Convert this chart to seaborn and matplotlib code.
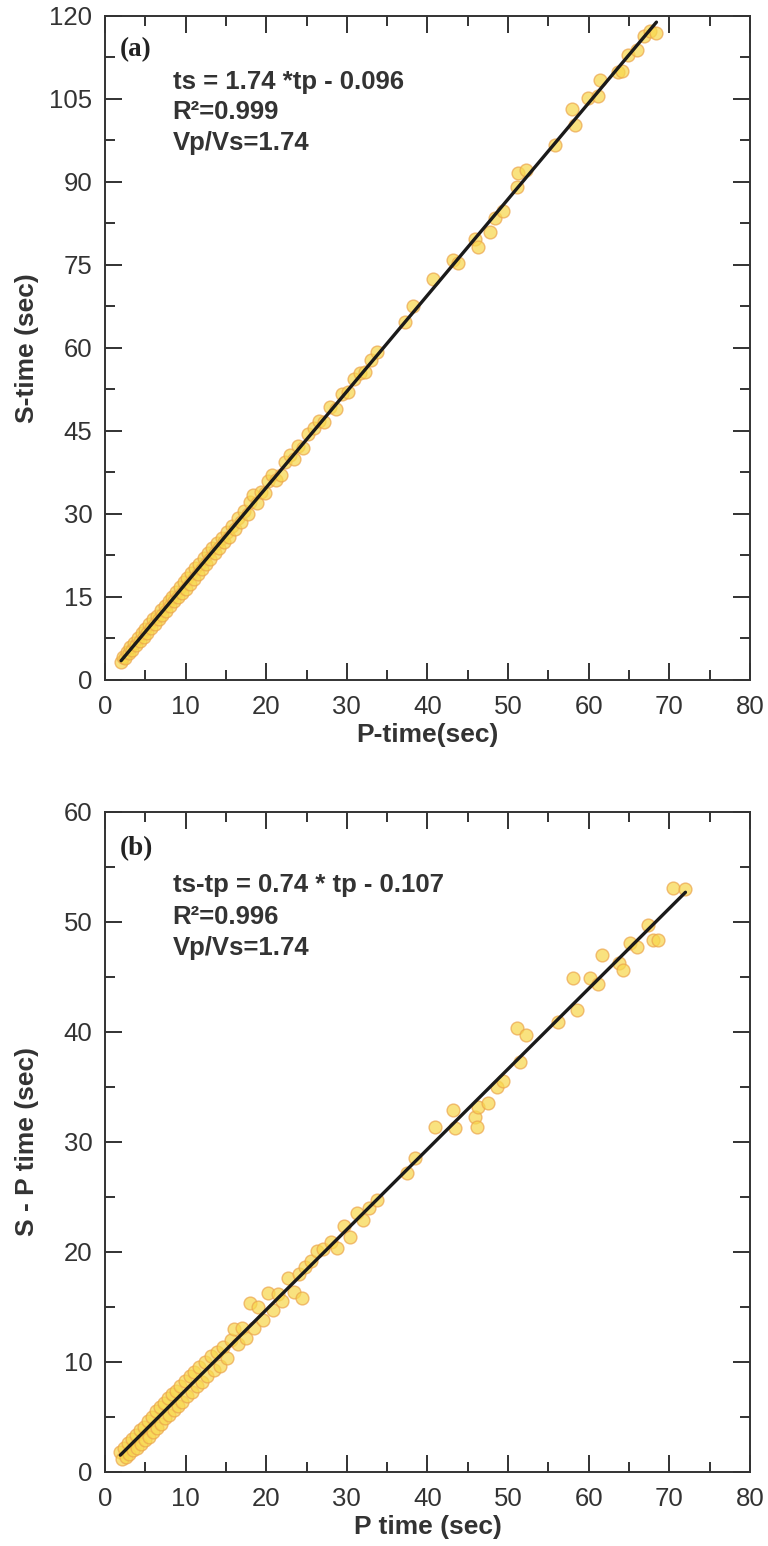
import numpy as np
import pandas as pd
import matplotlib
matplotlib.use("Agg")
import matplotlib.pyplot as plt
from matplotlib.ticker import MultipleLocator
import seaborn as sns

# ---------------- data ----------------
p_a = [2.0, 2.2, 2.5, 2.7, 3.0, 3.1, 3.4, 3.6, 3.9, 4.1, 4.3, 4.6, 4.8, 5.0, 5.2, 5.5, 5.7, 6.0,
       6.2, 6.4, 6.7, 6.9, 7.1, 7.4, 7.6, 7.9, 8.1, 8.3, 8.6, 8.8, 9.0, 9.3, 9.5, 9.8, 10.0, 10.2,
       10.5, 10.7, 11.0, 11.2, 11.5, 11.7, 12.0, 12.3, 12.5, 12.8, 13.0, 13.3, 13.6, 13.9, 14.2,
       14.5, 14.8, 15.1, 15.4, 15.8, 16.1, 16.5, 16.9, 17.3, 17.7, 18.0, 18.4, 18.9, 19.3, 19.8,
       20.2, 20.7, 21.2, 21.8, 22.3, 22.9, 23.5, 24.0, 24.6, 25.2, 25.9, 26.5, 27.2, 27.9, 28.6,
       29.4, 30.2, 30.9, 31.6, 32.3, 33.0, 33.8,
       37.2, 38.2, 40.7, 43.2, 43.8, 45.9, 46.3, 47.8, 48.4, 49.4, 51.1, 51.2, 52.2, 55.8, 57.9,
       58.3, 59.9, 61.2, 61.4, 63.6, 64.1, 64.9, 66.0, 66.8, 67.6, 68.4]
s_a = [3.2, 4.1, 4.0, 5.0, 4.8, 5.9, 5.4, 6.6, 6.3, 7.6, 7.0, 8.5, 7.8, 9.2, 8.4, 10.1, 9.3, 11.0,
       10.1, 11.6, 11.0, 12.6, 11.7, 13.4, 12.5, 14.3, 13.4, 15.0, 14.2, 15.9, 14.9, 16.8, 15.8,
       17.7, 16.5, 18.5, 17.4, 19.3, 18.3, 20.2, 19.1, 21.0, 20.0, 22.0, 20.9, 22.9, 21.8, 23.8,
       22.9, 24.8, 23.8, 25.6, 25.0, 26.7, 25.9, 27.9, 27.2, 29.3, 28.5, 30.6, 29.9, 32.2, 33.4,
       31.9, 33.9, 33.7, 36.0, 37.1, 36.2, 37.1, 39.4, 40.6, 40.0, 42.3, 42.0, 44.5, 45.6, 46.8,
       46.6, 49.3, 48.9, 51.7, 52.0, 54.3, 55.5, 55.6, 57.9, 59.2,
       64.7, 67.5, 72.5, 75.9, 75.4, 79.6, 78.3, 81.0, 83.5, 84.8, 89.0, 91.7, 92.2, 96.7, 103.1,
       100.2, 105.2, 105.5, 108.5, 109.8, 110.0, 113.0, 113.9, 116.3, 117.2, 117.0]

p_b = [1.9, 2.1, 2.3, 2.6, 2.8, 3.0, 3.3, 3.5, 3.8, 4.0, 4.3, 4.5, 4.8, 5.0, 5.3, 5.5, 5.8, 6.0,
       6.3, 6.5, 6.8, 7.0, 7.3, 7.5, 7.8, 8.0, 8.3, 8.5, 8.8, 9.0, 9.3, 9.6, 9.9, 10.2, 10.5, 10.8,
       11.1, 11.4, 11.7, 12.0, 12.4, 12.7, 13.1, 13.5, 13.9, 14.3, 14.7, 15.1, 15.6, 16.0, 16.5,
       17.0, 17.5, 18.0, 18.5, 19.0, 19.6, 20.2, 20.8, 21.4, 22.0, 22.7, 23.4, 24.1, 24.4, 24.8,
       25.5, 26.3, 27.1, 28.0, 28.8, 29.6, 30.4, 31.2, 32.0, 32.8, 33.7,
       37.4, 38.5, 40.9, 43.2, 43.4, 45.9, 46.1, 46.3, 47.5, 48.6, 49.4, 51.5, 51.1, 52.2, 56.2,
       58.5, 58.1, 60.2, 61.2, 61.7, 63.7, 64.3, 65.1, 66.0, 67.4, 68.0, 68.6, 70.5, 72.0]
sp_b = [1.8, 1.2, 2.2, 1.4, 2.6, 1.6, 3.0, 2.0, 3.4, 2.2, 3.8, 2.5, 4.1, 2.9, 4.6, 3.2, 5.0, 3.6,
        5.5, 4.0, 5.9, 4.4, 6.3, 4.9, 6.7, 5.2, 7.1, 5.6, 7.4, 6.0, 7.8, 6.4, 8.3, 6.9, 8.7, 7.3,
        9.1, 7.8, 9.5, 8.2, 10.0, 8.7, 10.5, 9.3, 10.9, 9.6, 11.4, 10.4, 12.0, 13.0, 11.6,
        13.1, 12.2, 15.4, 13.1, 15.0, 13.8, 16.3, 14.7, 16.2, 15.5, 17.6, 16.4, 18.0, 15.8, 18.6,
        19.2, 20.1, 20.3, 20.9, 20.4, 22.4, 21.4, 23.5, 22.9, 24.0, 24.7,
        27.2, 28.5, 31.4, 32.9, 31.3, 32.3, 31.4, 33.2, 33.5, 35.0, 35.5, 37.3, 40.4, 39.7, 40.9,
        42.0, 44.9, 44.9, 44.4, 47.0, 46.3, 45.6, 48.1, 47.7, 49.7, 48.4, 48.4, 53.1, 53.0]

df_a = pd.DataFrame({"P": p_a, "S": s_a})
df_b = pd.DataFrame({"P": p_b, "SP": sp_b})

# ---------------- style ----------------
sns.set_style("ticks")
plt.rcParams["font.family"] = ["Liberation Sans", "DejaVu Sans"]

fig = plt.figure(figsize=(7.68, 15.46), dpi=100)
ax_a = fig.add_axes([0.1367, 0.5602, 0.8398, 0.4295])
ax_b = fig.add_axes([0.1367, 0.0479, 0.8398, 0.4269])

scatter_kws = dict(s=85, facecolor="#f8d84e", edgecolor="#eca54c", linewidths=1.0, alpha=0.72)
line_kws = dict(color="#1a1a1a", linewidth=2.4)

sns.regplot(data=df_a, x="P", y="S", ax=ax_a, ci=None, truncate=True,
            scatter_kws=scatter_kws, line_kws=line_kws)
sns.regplot(data=df_b, x="P", y="SP", ax=ax_b, ci=None, truncate=True,
            scatter_kws=scatter_kws, line_kws=line_kws)

tick_col = "#222222"
for ax, ymax, ymaj, ymin in [(ax_a, 120, 15, 7.5), (ax_b, 60, 10, 5)]:
    ax.set_xlim(0, 80)
    ax.set_ylim(0, ymax)
    ax.xaxis.set_major_locator(MultipleLocator(10))
    ax.xaxis.set_minor_locator(MultipleLocator(5))
    ax.yaxis.set_major_locator(MultipleLocator(ymaj))
    ax.yaxis.set_minor_locator(MultipleLocator(ymin))
    ax.tick_params(which="both", direction="in", top=True, right=True, colors=tick_col,
                   width=1.3)
    ax.tick_params(which="major", length=12, labelsize=18.5)
    ax.tick_params(which="minor", length=7.5)
    ax.tick_params(axis="x", which="major", pad=11)
    ax.tick_params(axis="y", which="major", pad=9)
    for lab in ax.get_xticklabels() + ax.get_yticklabels():
        lab.set_color("#333333")
    for sp in ax.spines.values():
        sp.set_visible(True)
        sp.set_linewidth(1.4)
        sp.set_color("#333333")

lab_kw = dict(fontsize=19, fontweight="bold", color="#333333")
ax_a.set_xlabel("P-time(sec)", labelpad=3, **lab_kw)
ax_a.set_ylabel("S-time (sec)", **lab_kw)
ax_b.set_xlabel("P time (sec)", labelpad=3, **lab_kw)
ax_b.set_ylabel("S - P time (sec)", **lab_kw)
ax_a.yaxis.set_label_coords(-0.102, 0.5)
ax_b.yaxis.set_label_coords(-0.102, 0.5)

serif = ["Liberation Serif", "DejaVu Serif"]
ax_a.text(0.023, 0.949, "(a)", transform=ax_a.transAxes, fontsize=19.5, fontweight="bold",
          family=serif, va="center", ha="left", color="#222222")
ax_b.text(0.023, 0.945, "(b)", transform=ax_b.transAxes, fontsize=19.5, fontweight="bold",
          family=serif, va="center", ha="left", color="#222222")

lines_a = ["ts = 1.74 *tp - 0.096", "R²=0.999", "Vp/Vs=1.74"]
ys_a = [0.900, 0.855, 0.809]
lines_b = ["ts-tp = 0.74 * tp - 0.107", "R²=0.996", "Vp/Vs=1.74"]
ys_b = [0.889, 0.841, 0.794]
for t, y in zip(lines_a, ys_a):
    ax_a.text(0.105, y, t, transform=ax_a.transAxes, fontsize=18.5, fontweight="bold",
              va="center", ha="left", color="#333333")
for t, y in zip(lines_b, ys_b):
    ax_b.text(0.105, y, t, transform=ax_b.transAxes, fontsize=18.5, fontweight="bold",
              va="center", ha="left", color="#333333")

fig.savefig("out.png", dpi=100, facecolor="white")
